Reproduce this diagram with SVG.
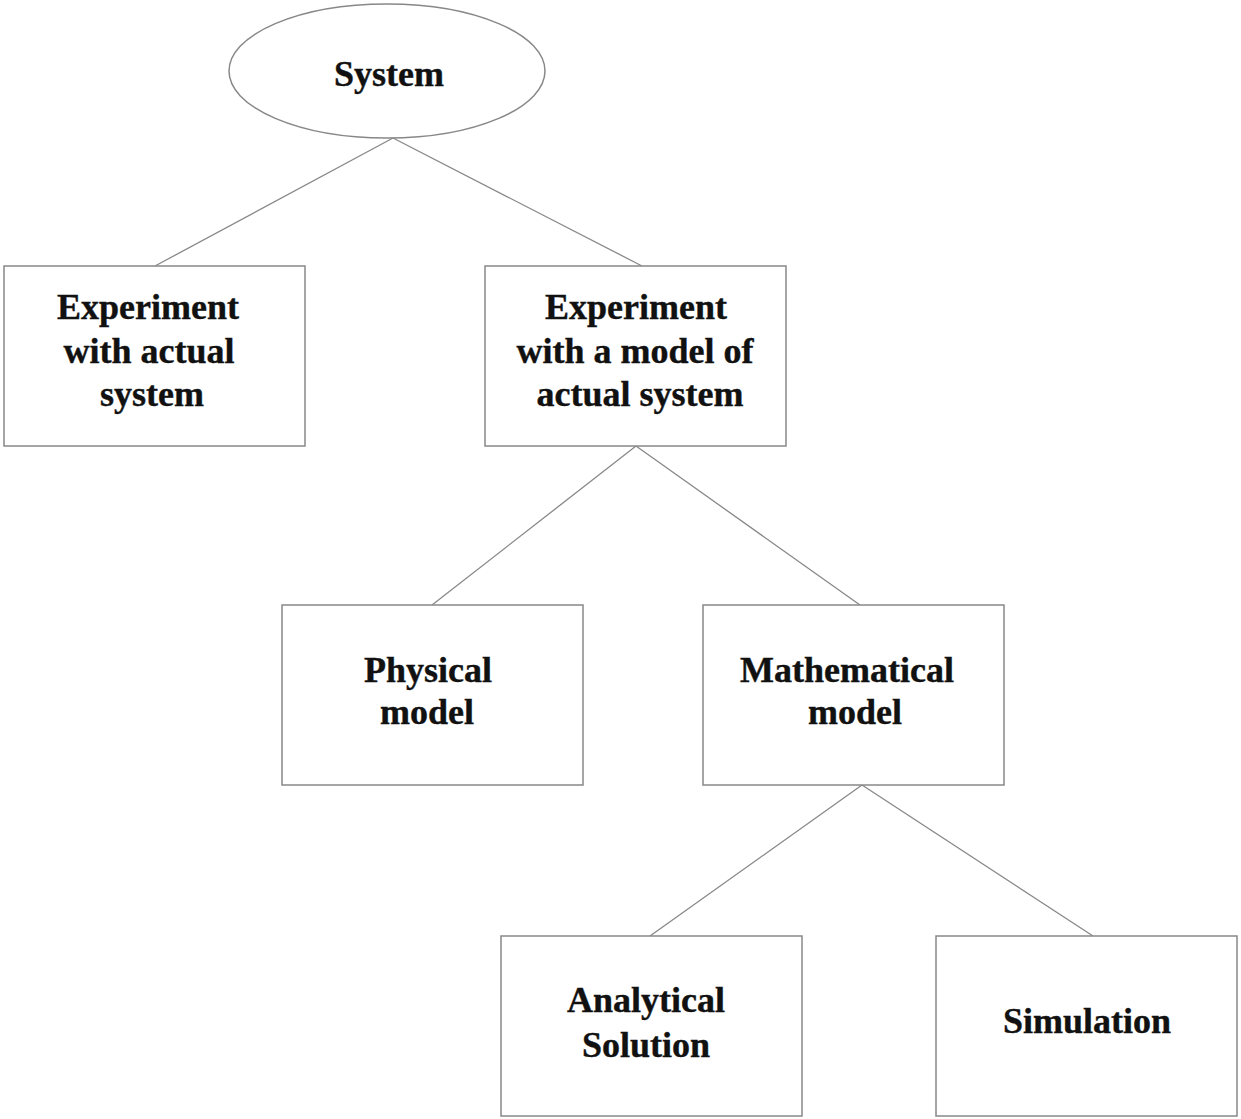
<svg xmlns="http://www.w3.org/2000/svg" width="1241" height="1119" viewBox="0 0 1241 1119">
<style>
.n{fill:#fff;stroke:#888;stroke-width:1.5}
.c line{stroke:#888;stroke-width:1.3}
text{font-family:"Liberation Serif","Times New Roman",serif;font-weight:bold;font-size:36px;fill:#111;stroke:#111;stroke-width:0.4;text-anchor:middle}
</style>
<rect width="1241" height="1119" fill="#fff"/>
<g class="c" id="connectors">
<line x1="393" y1="138" x2="155" y2="266"/>
<line x1="393" y1="138" x2="642" y2="266"/>
<line x1="636" y1="446" x2="432" y2="605"/>
<line x1="636" y1="446" x2="860" y2="605"/>
<line x1="862" y1="785" x2="650" y2="936"/>
<line x1="862" y1="785" x2="1093" y2="936"/>
</g>
<g id="system"><ellipse class="n" cx="387" cy="71" rx="158" ry="67"/><text x="389" y="86">System</text></g>
<g id="actual"><rect class="n" x="4" y="266" width="301" height="180"/><text x="148" y="319">Experiment</text><text x="149" y="363">with actual</text><text x="152" y="406">system</text></g>
<g id="model"><rect class="n" x="485" y="266" width="301" height="180"/><text x="636" y="319">Experiment</text><text x="635" y="363">with a model of</text><text x="640" y="406">actual system</text></g>
<g id="physical"><rect class="n" x="282" y="605" width="301" height="180"/><text x="428" y="682">Physical</text><text x="427" y="724">model</text></g>
<g id="mathematical"><rect class="n" x="703" y="605" width="301" height="180"/><text x="847" y="682">Mathematical</text><text x="855" y="724">model</text></g>
<g id="analytical"><rect class="n" x="501" y="936" width="301" height="180"/><text x="646" y="1012">Analytical</text><text x="646" y="1057">Solution</text></g>
<g id="simulation"><rect class="n" x="936" y="936" width="301" height="180"/><text x="1087" y="1033">Simulation</text></g>
</svg>
